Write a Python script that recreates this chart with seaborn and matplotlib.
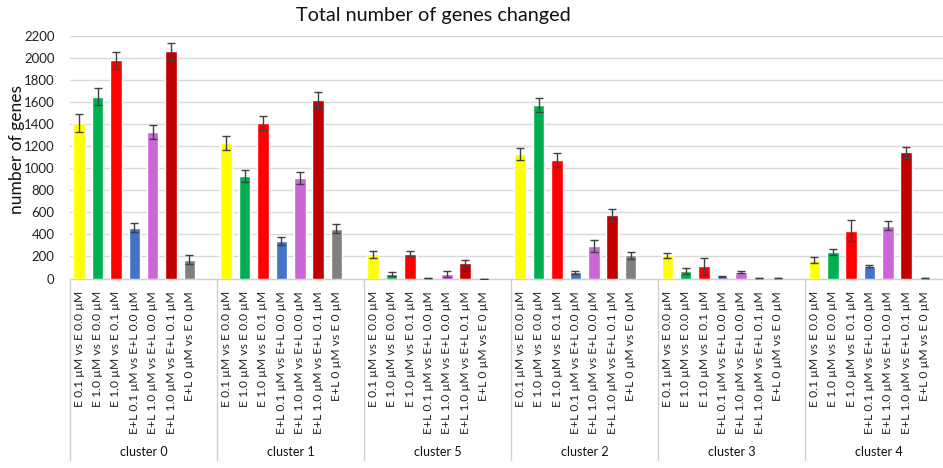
import matplotlib
matplotlib.use("Agg")
import matplotlib.pyplot as plt
import matplotlib.transforms as mtransforms
import seaborn as sns
import pandas as pd

clusters = ["cluster 0", "cluster 1", "cluster 5", "cluster 2", "cluster 3", "cluster 4"]
comparisons = [
    "E 0.1 µM vs E 0.0 µM",
    "E 1.0 µM vs E 0.0 µM",
    "E 1.0 µM vs E 0.1 µM",
    "E+L 0.1 µM vs E+L 0.0 µM",
    "E+L 1.0 µM vs E+L 0.0 µM",
    "E+L 1.0 µM vs E+L 0.1 µM",
    "E+L 0 µM vs E 0 µM",
]
colors = ["#FFFF00", "#00B050", "#FF0000", "#4472C4", "#CC66D6", "#C00000", "#808080"]

values_c0 = [1410, 1650, 1980, 460, 1330, 2060, 170]
values_c1 = [1230, 930, 1410, 340, 910, 1620, 450]
values_c5 = [220, 40, 225, 5, 40, 140, 0]
values_c2 = [1130, 1575, 1075, 55, 295, 575, 210]
values_c3 = [210, 70, 110, 15, 60, 3, 3]
values_c4 = [170, 240, 435, 115, 480, 1145, 3]

errors_c0 = [80, 75, 75, 40, 65, 75, 40]
errors_c1 = [65, 55, 65, 40, 55, 75, 40]
errors_c5 = [30, 20, 20, 3, 25, 25, 0]
errors_c2 = [55, 65, 65, 10, 55, 55, 30]
errors_c3 = [25, 25, 80, 5, 10, 2, 2]
errors_c4 = [25, 25, 95, 10, 40, 50, 2]

all_values = [values_c0, values_c1, values_c5, values_c2, values_c3, values_c4]
all_errors = [errors_c0, errors_c1, errors_c5, errors_c2, errors_c3, errors_c4]

rows = []
order = []
for cl, vals, errs in zip(clusters, all_values, all_errors):
    for comp, v, e in zip(comparisons, vals, errs):
        key = f"{cl}|{comp}"
        rows.append({"key": key, "cluster": cl, "comparison": comp, "value": v, "err": e})
        order.append(key)
    order.append(f"{cl}|")  # empty slot after each cluster
df = pd.DataFrame(rows)

sns.set_theme(style="white")
plt.rcParams["font.family"] = ["Lato", "DejaVu Sans"]

W, H = 943, 468
fig = plt.figure(figsize=(W / 100, H / 100), dpi=100)
x0, x1 = 70, 943
y_top, y_bot = 36, 278.5
ax = fig.add_axes([x0 / W, 1 - y_bot / H, (x1 - x0) / W, (y_bot - y_top) / H])

palette = dict(zip(comparisons, colors))
sns.barplot(data=df, x="key", y="value", hue="comparison", hue_order=comparisons,
            palette=palette, order=order, dodge=False, legend=False,
            errorbar=None, width=0.63, saturation=1, ax=ax, zorder=3)

pos = [order.index(k) for k in df["key"]]
ax.errorbar(pos, df["value"], yerr=df["err"], fmt="none", ecolor="#404040",
            elinewidth=1.0, capsize=3, capthick=1.0, zorder=4)

slot = 18.46
ax.set_xlim(-0.5, (x1 - x0) / slot - 0.5)
ax.set_ylim(0, 2200)
ax.set_yticks(range(0, 2201, 200))
ax.tick_params(axis="y", labelsize=9.5, length=0, pad=11, labelcolor="#222222")
ax.yaxis.grid(True, color="#D9D9D9", linewidth=1.0, zorder=0)
ax.xaxis.grid(False)

labels = [k.split("|")[1] for k in order]
ax.set_xticks(range(len(order)))
ax.set_xticklabels(labels, rotation=90, fontsize=8.7, color="#222222")
ax.tick_params(axis="x", length=0, pad=9)
ax.set_xlabel("")
ax.set_ylabel("number of genes", fontsize=12.5, color="#111111")
ax.yaxis.set_label_coords((25 - x0) / (x1 - x0), (y_bot - 150) / (y_bot - y_top))

for s in ["left", "right", "top"]:
    ax.spines[s].set_visible(False)
ax.spines["bottom"].set_color("#D0D0D0")
ax.spines["bottom"].set_linewidth(1.0)

trans = mtransforms.blended_transform_factory(ax.transData, ax.transAxes)
ah = y_bot - y_top
div_bottom = -(460 - y_bot) / ah
label_y = -(452 - y_bot) / ah
for i, cl in enumerate(clusters):
    xs = i * 8 - 0.5
    ax.plot([xs, xs], [0, div_bottom], transform=trans, color="#D0D0D0",
            linewidth=1.0, clip_on=False)
    ax.text(i * 8 + 3.5, label_y, cl, transform=trans, ha="center", va="center",
            fontsize=9, color="#111111")

fig.text(433 / W, 1 - 16 / H, "Total number of genes changed", ha="center",
         va="center", fontsize=14.3, color="#111111")

fig.savefig("out.png", dpi=100)
